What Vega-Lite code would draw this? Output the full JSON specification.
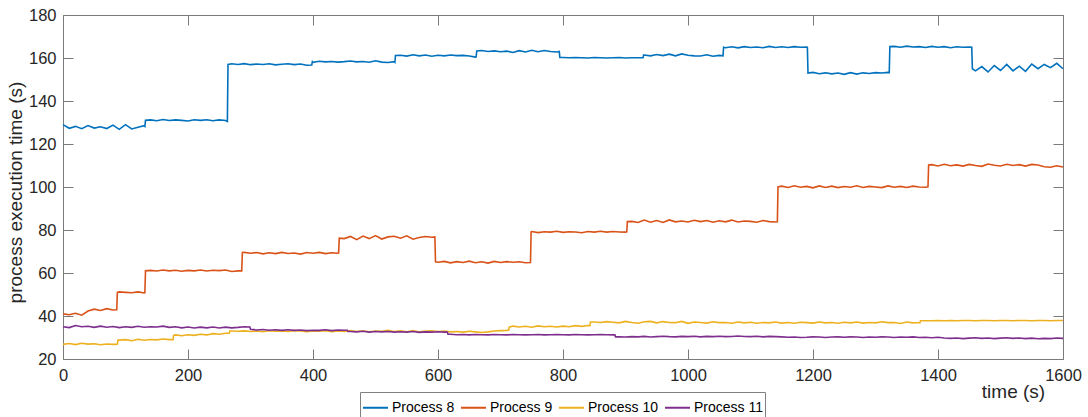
{
"$schema": "https://vega.github.io/schema/vega-lite/v6.json",
"width": 1000, "height": 344,
"autosize": "none",
"padding": {"left": 63, "top": 15, "right": 25, "bottom": 58},
"background": "white",
"config": {"view": {"stroke": null}, "font": "Liberation Sans",
 "axis": {"grid": false, "domainColor": "#7a7a7a", "tickColor": "#7a7a7a", "domainWidth": 1, "tickWidth": 1, "labelColor": "#262626", "titleColor": "#262626", "labelFontSize": 16.5, "titleFontSize": 19, "titleFontWeight": "normal", "labelFont": "Liberation Sans", "titleFont": "Liberation Sans"}},
"data": {"values": [
{"t":0,"Process 8":129.0,"Process 9":41.0,"Process 10":26.8,"Process 11":35.0},
{"t":10,"Process 8":127.3,"Process 9":40.6,"Process 10":27.2,"Process 11":34.6},
{"t":20,"Process 8":128.2,"Process 9":41.3,"Process 10":26.7,"Process 11":35.6},
{"t":30,"Process 8":127.1,"Process 9":40.4,"Process 10":27.3,"Process 11":35.0},
{"t":40,"Process 8":128.6,"Process 9":42.3,"Process 10":26.9,"Process 11":35.2},
{"t":50,"Process 8":127.4,"Process 9":43.2,"Process 10":27.1,"Process 11":34.7},
{"t":60,"Process 8":128.0,"Process 9":42.6,"Process 10":26.6,"Process 11":35.3},
{"t":70,"Process 8":127.2,"Process 9":43.4,"Process 10":27.0,"Process 11":34.8},
{"t":80,"Process 8":128.8,"Process 9":42.8,"Process 10":26.8,"Process 11":35.1},
{"t":86,"Process 9":42.9},
{"t":87,"Process 9":51.0,"Process 10":26.9},
{"t":88,"Process 10":28.8},
{"t":90,"Process 8":126.8,"Process 9":51.2,"Process 10":28.8,"Process 11":34.6},
{"t":100,"Process 8":129.0,"Process 9":51.0,"Process 10":29.0,"Process 11":35.0},
{"t":110,"Process 8":127.0,"Process 9":50.8,"Process 10":28.5,"Process 11":34.7},
{"t":120,"Process 8":127.8,"Process 9":51.2,"Process 10":29.2,"Process 11":35.2},
{"t":130,"Process 8":128.5,"Process 9":50.7,"Process 10":28.7,"Process 11":34.8},
{"t":131,"Process 8":128.2,"Process 9":50.8},
{"t":132,"Process 8":131.0,"Process 9":61.0},
{"t":140,"Process 8":131.2,"Process 9":61.2,"Process 10":29.1,"Process 11":35.0},
{"t":150,"Process 8":130.8,"Process 9":60.9,"Process 10":28.9,"Process 11":34.9},
{"t":160,"Process 8":131.4,"Process 9":61.4,"Process 10":29.3,"Process 11":35.3},
{"t":170,"Process 8":130.9,"Process 9":61.0,"Process 10":29.0,"Process 11":34.7},
{"t":176,"Process 10":29.0},
{"t":177,"Process 10":31.0},
{"t":180,"Process 8":131.2,"Process 9":61.3,"Process 10":31.2,"Process 11":35.0},
{"t":190,"Process 8":131.0,"Process 9":60.8,"Process 10":30.8,"Process 11":34.5},
{"t":200,"Process 8":130.7,"Process 9":61.2,"Process 10":31.3,"Process 11":34.9},
{"t":210,"Process 8":131.3,"Process 9":61.0,"Process 10":31.0,"Process 11":34.4},
{"t":220,"Process 8":131.0,"Process 9":61.4,"Process 10":31.5,"Process 11":34.8},
{"t":230,"Process 8":131.3,"Process 9":60.9,"Process 10":31.2,"Process 11":34.5},
{"t":240,"Process 8":130.8,"Process 9":61.3,"Process 10":31.8,"Process 11":34.9},
{"t":250,"Process 8":131.2,"Process 9":61.1,"Process 10":31.5,"Process 11":34.4},
{"t":260,"Process 8":130.9,"Process 9":61.4,"Process 10":32.0,"Process 11":34.8},
{"t":263,"Process 8":130.5},
{"t":264,"Process 8":157.0},
{"t":266,"Process 10":32.0},
{"t":267,"Process 10":33.0},
{"t":270,"Process 8":157.3,"Process 9":60.7,"Process 10":33.0,"Process 11":34.5},
{"t":280,"Process 8":157.0,"Process 9":61.0,"Process 10":32.9,"Process 11":34.7},
{"t":286,"Process 9":61.0},
{"t":287,"Process 9":69.5},
{"t":290,"Process 8":157.4,"Process 9":69.6,"Process 10":33.1,"Process 11":35.0},
{"t":299,"Process 11":34.9},
{"t":300,"Process 8":156.9,"Process 9":69.2,"Process 10":32.8,"Process 11":33.8},
{"t":310,"Process 8":157.2,"Process 9":69.5,"Process 10":33.0,"Process 11":33.5},
{"t":320,"Process 8":157.0,"Process 9":68.9,"Process 10":32.7,"Process 11":33.7},
{"t":330,"Process 8":157.3,"Process 9":69.4,"Process 10":33.2,"Process 11":33.4},
{"t":340,"Process 8":156.8,"Process 9":69.0,"Process 10":32.9,"Process 11":33.6},
{"t":350,"Process 8":157.1,"Process 9":69.6,"Process 10":33.1,"Process 11":33.3},
{"t":360,"Process 8":157.3,"Process 9":69.1,"Process 10":32.8,"Process 11":33.6},
{"t":370,"Process 8":156.9,"Process 9":69.3,"Process 10":33.2,"Process 11":33.3},
{"t":380,"Process 8":157.2,"Process 9":68.8,"Process 10":33.0,"Process 11":33.5},
{"t":390,"Process 8":156.6,"Process 9":69.5,"Process 10":32.7,"Process 11":33.2},
{"t":398,"Process 8":156.7},
{"t":399,"Process 8":158.3},
{"t":400,"Process 8":158.0,"Process 9":69.2,"Process 10":33.1,"Process 11":33.4},
{"t":410,"Process 8":158.5,"Process 9":69.6,"Process 10":32.9,"Process 11":33.3},
{"t":420,"Process 8":158.2,"Process 9":69.0,"Process 10":33.2,"Process 11":33.6},
{"t":430,"Process 8":158.4,"Process 9":69.4,"Process 10":32.7,"Process 11":33.2},
{"t":440,"Process 8":158.1,"Process 9":69.2,"Process 10":33.0,"Process 11":33.5},
{"t":441,"Process 9":69.3},
{"t":442,"Process 9":76.2},
{"t":450,"Process 8":158.3,"Process 9":76.0,"Process 10":32.8,"Process 11":33.4},
{"t":455,"Process 11":33.4},
{"t":456,"Process 11":32.8},
{"t":460,"Process 8":158.6,"Process 9":77.0,"Process 10":33.2,"Process 11":32.8},
{"t":470,"Process 8":158.2,"Process 9":75.5,"Process 10":32.8,"Process 11":32.6},
{"t":480,"Process 8":158.4,"Process 9":77.2,"Process 10":33.1,"Process 11":32.9},
{"t":490,"Process 8":158.0,"Process 9":76.0,"Process 10":32.7,"Process 11":32.5},
{"t":500,"Process 8":158.7,"Process 9":77.4,"Process 10":33.0,"Process 11":32.8},
{"t":510,"Process 8":158.1,"Process 9":75.8,"Process 10":32.9,"Process 11":32.6},
{"t":520,"Process 8":157.9,"Process 9":76.8,"Process 10":33.3,"Process 11":32.8},
{"t":530,"Process 8":158.3,"Process 9":77.1,"Process 10":32.8,"Process 11":32.5},
{"t":531,"Process 8":158.0},
{"t":532,"Process 8":161.2},
{"t":540,"Process 8":161.3,"Process 9":76.2,"Process 10":33.1,"Process 11":32.7},
{"t":550,"Process 8":160.9,"Process 9":77.3,"Process 10":32.7,"Process 11":32.5},
{"t":560,"Process 8":161.5,"Process 9":75.7,"Process 10":33.2,"Process 11":32.8},
{"t":570,"Process 8":161.0,"Process 9":76.5,"Process 10":32.6,"Process 11":32.4},
{"t":580,"Process 8":161.4,"Process 9":77.0,"Process 10":33.0,"Process 11":32.6},
{"t":590,"Process 8":160.8,"Process 9":76.6,"Process 10":33.1,"Process 11":32.5},
{"t":595,"Process 9":76.8},
{"t":596,"Process 9":65.2},
{"t":600,"Process 8":161.3,"Process 9":65.0,"Process 10":32.8,"Process 11":32.7},
{"t":610,"Process 8":161.0,"Process 9":65.4,"Process 10":33.0,"Process 11":32.5},
{"t":615,"Process 11":32.5},
{"t":616,"Process 11":31.5},
{"t":620,"Process 8":161.4,"Process 9":64.7,"Process 10":32.6,"Process 11":31.5},
{"t":630,"Process 8":161.1,"Process 9":65.3,"Process 10":32.8,"Process 11":31.3},
{"t":640,"Process 8":161.2,"Process 9":64.9,"Process 10":32.5,"Process 11":31.4},
{"t":650,"Process 8":160.9,"Process 9":65.5,"Process 10":32.9,"Process 11":31.2},
{"t":660,"Process 8":160.4,"Process 9":64.8,"Process 10":32.6,"Process 11":31.4},
{"t":661,"Process 8":160.5},
{"t":662,"Process 8":163.3},
{"t":670,"Process 8":163.5,"Process 9":65.2,"Process 10":32.3,"Process 11":31.3},
{"t":680,"Process 8":163.0,"Process 9":64.6,"Process 10":32.6,"Process 11":31.2},
{"t":690,"Process 8":163.3,"Process 9":65.4,"Process 10":33.0,"Process 11":31.4},
{"t":700,"Process 8":162.9,"Process 9":64.9,"Process 10":33.2,"Process 11":31.3},
{"t":710,"Process 8":163.2,"Process 9":65.3,"Process 10":33.3,"Process 11":31.2},
{"t":713,"Process 10":33.4},
{"t":714,"Process 10":34.8},
{"t":720,"Process 8":162.6,"Process 9":65.0,"Process 10":35.3,"Process 11":31.4},
{"t":730,"Process 8":163.4,"Process 9":65.2,"Process 10":34.9,"Process 11":31.3},
{"t":740,"Process 8":162.8,"Process 9":64.8,"Process 10":35.2,"Process 11":31.2},
{"t":748,"Process 9":64.9},
{"t":749,"Process 9":79.1},
{"t":750,"Process 8":163.6,"Process 9":79.3,"Process 10":34.8,"Process 11":31.3},
{"t":760,"Process 8":162.9,"Process 9":78.8,"Process 10":35.4,"Process 11":31.4},
{"t":770,"Process 8":163.5,"Process 9":79.2,"Process 10":35.0,"Process 11":31.2},
{"t":780,"Process 8":163.0,"Process 9":79.0,"Process 10":35.2,"Process 11":31.3},
{"t":790,"Process 8":162.8,"Process 9":79.4,"Process 10":34.9,"Process 11":31.4},
{"t":794,"Process 8":163.0},
{"t":795,"Process 8":160.2},
{"t":800,"Process 8":160.2,"Process 9":78.9,"Process 10":35.3,"Process 11":31.3},
{"t":810,"Process 8":160.1,"Process 9":79.2,"Process 10":35.0,"Process 11":31.2},
{"t":820,"Process 8":160.2,"Process 9":79.1,"Process 10":35.5,"Process 11":31.4},
{"t":830,"Process 8":160.1,"Process 9":78.7,"Process 10":35.2,"Process 11":31.3},
{"t":840,"Process 8":160.0,"Process 9":79.3,"Process 10":35.6,"Process 11":31.2},
{"t":843,"Process 10":35.5},
{"t":844,"Process 10":37.2},
{"t":850,"Process 8":160.2,"Process 9":79.0,"Process 10":37.2,"Process 11":31.3},
{"t":860,"Process 8":160.1,"Process 9":79.4,"Process 10":37.0,"Process 11":31.4},
{"t":870,"Process 8":160.0,"Process 9":79.0,"Process 10":37.4,"Process 11":31.3},
{"t":880,"Process 8":160.1,"Process 9":79.3,"Process 10":37.1,"Process 11":31.2},
{"t":883,"Process 11":31.2},
{"t":884,"Process 11":30.3},
{"t":890,"Process 8":160.2,"Process 9":79.1,"Process 10":36.8,"Process 11":30.3},
{"t":900,"Process 8":160.0,"Process 9":79.0,"Process 10":37.5,"Process 11":30.2},
{"t":902,"Process 9":79.1},
{"t":903,"Process 9":83.9},
{"t":910,"Process 8":160.1,"Process 9":84.0,"Process 10":37.0,"Process 11":30.4},
{"t":920,"Process 8":160.1,"Process 9":83.5,"Process 10":36.6,"Process 11":30.3},
{"t":928,"Process 8":160.1},
{"t":929,"Process 8":161.4},
{"t":930,"Process 8":161.4,"Process 9":84.6,"Process 10":37.3,"Process 11":30.5},
{"t":940,"Process 8":161.0,"Process 9":83.6,"Process 10":37.5,"Process 11":30.2},
{"t":950,"Process 8":161.6,"Process 9":84.4,"Process 10":36.8,"Process 11":30.4},
{"t":960,"Process 8":161.1,"Process 9":83.5,"Process 10":37.4,"Process 11":30.6},
{"t":970,"Process 8":161.8,"Process 9":84.7,"Process 10":37.0,"Process 11":30.4},
{"t":980,"Process 8":161.0,"Process 9":83.8,"Process 10":36.9,"Process 11":30.3},
{"t":990,"Process 8":161.9,"Process 9":84.2,"Process 10":37.5,"Process 11":30.5},
{"t":1000,"Process 8":161.3,"Process 9":83.7,"Process 10":36.6,"Process 11":30.4},
{"t":1010,"Process 8":161.0,"Process 9":84.5,"Process 10":37.2,"Process 11":30.6},
{"t":1020,"Process 8":160.9,"Process 9":83.9,"Process 10":37.0,"Process 11":30.3},
{"t":1030,"Process 8":161.5,"Process 9":84.4,"Process 10":36.7,"Process 11":30.5},
{"t":1040,"Process 8":160.8,"Process 9":83.6,"Process 10":37.3,"Process 11":30.4},
{"t":1050,"Process 8":161.2,"Process 9":84.3,"Process 10":36.9,"Process 11":30.6},
{"t":1056,"Process 8":161.0},
{"t":1057,"Process 8":165.0},
{"t":1060,"Process 8":164.8,"Process 9":83.8,"Process 10":37.0,"Process 11":30.4},
{"t":1070,"Process 8":165.2,"Process 9":84.6,"Process 10":36.6,"Process 11":30.5},
{"t":1080,"Process 8":164.7,"Process 9":83.7,"Process 10":37.2,"Process 11":30.7},
{"t":1090,"Process 8":165.3,"Process 9":84.2,"Process 10":36.8,"Process 11":30.5},
{"t":1100,"Process 8":164.9,"Process 9":84.0,"Process 10":37.1,"Process 11":30.4},
{"t":1110,"Process 8":165.1,"Process 9":83.6,"Process 10":36.6,"Process 11":30.6},
{"t":1120,"Process 8":164.8,"Process 9":84.4,"Process 10":37.0,"Process 11":30.3},
{"t":1130,"Process 8":165.4,"Process 9":83.9,"Process 10":36.8,"Process 11":30.5},
{"t":1140,"Process 8":164.9,"Process 9":83.7,"Process 10":37.2,"Process 11":30.4},
{"t":1143,"Process 9":83.8},
{"t":1144,"Process 9":100.0},
{"t":1150,"Process 8":165.2,"Process 9":100.4,"Process 10":36.7,"Process 11":30.3},
{"t":1160,"Process 8":164.9,"Process 9":99.8,"Process 10":37.0,"Process 11":30.1},
{"t":1170,"Process 8":165.3,"Process 9":100.6,"Process 10":36.6,"Process 11":30.2},
{"t":1180,"Process 8":165.0,"Process 9":99.9,"Process 10":37.1,"Process 11":30.0},
{"t":1190,"Process 8":165.1,"Process 9":100.3,"Process 10":36.9,"Process 11":30.1},
{"t":1191,"Process 8":165.0},
{"t":1192,"Process 8":153.0},
{"t":1200,"Process 8":153.3,"Process 9":99.6,"Process 10":36.7,"Process 11":30.3},
{"t":1210,"Process 8":152.7,"Process 9":100.5,"Process 10":37.2,"Process 11":30.2},
{"t":1220,"Process 8":153.1,"Process 9":99.8,"Process 10":36.8,"Process 11":30.0},
{"t":1230,"Process 8":152.6,"Process 9":100.4,"Process 10":37.0,"Process 11":30.2},
{"t":1240,"Process 8":153.0,"Process 9":99.7,"Process 10":36.6,"Process 11":30.3},
{"t":1250,"Process 8":152.4,"Process 9":100.2,"Process 10":37.1,"Process 11":30.1},
{"t":1260,"Process 8":153.2,"Process 9":99.9,"Process 10":36.8,"Process 11":30.3},
{"t":1270,"Process 8":152.5,"Process 9":100.6,"Process 10":37.2,"Process 11":30.2},
{"t":1280,"Process 8":153.1,"Process 9":99.8,"Process 10":36.7,"Process 11":30.0},
{"t":1290,"Process 8":152.8,"Process 9":100.3,"Process 10":37.0,"Process 11":30.2},
{"t":1300,"Process 8":153.2,"Process 9":100.0,"Process 10":36.8,"Process 11":30.1},
{"t":1310,"Process 8":153.0,"Process 9":99.7,"Process 10":37.3,"Process 11":30.3},
{"t":1320,"Process 8":153.3,"Process 9":100.5,"Process 10":36.9,"Process 11":30.2},
{"t":1322,"Process 8":153.2},
{"t":1323,"Process 8":165.3},
{"t":1330,"Process 8":165.4,"Process 9":99.9,"Process 10":37.0,"Process 11":30.0},
{"t":1340,"Process 8":165.0,"Process 9":100.3,"Process 10":36.5,"Process 11":30.2},
{"t":1350,"Process 8":165.5,"Process 9":99.8,"Process 10":37.2,"Process 11":30.1},
{"t":1360,"Process 8":165.1,"Process 9":100.4,"Process 10":36.8,"Process 11":30.3},
{"t":1370,"Process 8":165.3,"Process 9":100.0,"Process 10":37.0,"Process 11":30.0},
{"t":1371,"Process 10":36.9},
{"t":1372,"Process 10":37.8},
{"t":1380,"Process 8":164.9,"Process 9":99.9,"Process 10":37.8,"Process 11":30.1},
{"t":1384,"Process 9":100.1},
{"t":1385,"Process 9":110.2},
{"t":1390,"Process 8":165.4,"Process 9":110.4,"Process 10":37.8,"Process 11":29.9},
{"t":1400,"Process 8":165.0,"Process 9":109.8,"Process 10":37.9,"Process 11":30.1},
{"t":1410,"Process 8":165.3,"Process 9":110.6,"Process 10":37.8,"Process 11":29.8},
{"t":1420,"Process 8":164.8,"Process 9":109.9,"Process 10":37.9,"Process 11":29.6},
{"t":1430,"Process 8":165.2,"Process 9":110.3,"Process 10":37.8,"Process 11":29.8},
{"t":1440,"Process 8":165.0,"Process 9":109.7,"Process 10":37.9,"Process 11":29.5},
{"t":1450,"Process 8":165.1,"Process 9":110.5,"Process 10":37.9,"Process 11":29.7},
{"t":1454,"Process 8":165.0},
{"t":1455,"Process 8":155.0},
{"t":1460,"Process 8":154.0,"Process 9":110.0,"Process 10":37.8,"Process 11":29.9},
{"t":1470,"Process 8":156.0,"Process 9":109.6,"Process 10":37.9,"Process 11":29.6},
{"t":1480,"Process 8":153.5,"Process 9":110.7,"Process 10":37.9,"Process 11":29.8},
{"t":1490,"Process 8":156.5,"Process 9":110.1,"Process 10":37.8,"Process 11":29.5},
{"t":1500,"Process 8":154.2,"Process 9":109.8,"Process 10":37.9,"Process 11":29.7},
{"t":1510,"Process 8":157.0,"Process 9":110.6,"Process 10":37.9,"Process 11":29.9},
{"t":1520,"Process 8":154.0,"Process 9":110.0,"Process 10":37.8,"Process 11":29.6},
{"t":1530,"Process 8":156.2,"Process 9":110.4,"Process 10":37.9,"Process 11":29.8},
{"t":1540,"Process 8":153.8,"Process 9":109.7,"Process 10":37.9,"Process 11":29.5},
{"t":1550,"Process 8":157.2,"Process 9":110.5,"Process 10":37.8,"Process 11":29.7},
{"t":1560,"Process 8":155.0,"Process 9":110.2,"Process 10":37.9,"Process 11":29.4},
{"t":1570,"Process 8":157.0,"Process 9":109.4,"Process 10":37.9,"Process 11":29.6},
{"t":1580,"Process 8":155.5,"Process 9":109.2,"Process 10":37.8,"Process 11":29.5},
{"t":1590,"Process 8":157.5,"Process 9":109.9,"Process 10":37.9,"Process 11":29.8},
{"t":1600,"Process 8":155.0,"Process 9":109.3,"Process 10":37.9,"Process 11":29.6}
]},
"transform": [
 {"fold": ["Process 8", "Process 9", "Process 10", "Process 11"], "as": ["series", "value"]},
 {"filter": "isValid(datum.value)"}
],
"layer": [
 {"mark": {"type": "line", "strokeWidth": 1.6},
  "encoding": {
   "x": {"field": "t", "type": "quantitative", "scale": {"domain": [0, 1600], "nice": false},
     "axis": {"orient": "bottom", "values": [0,200,400,600,800,1000,1200,1400,1600], "format": "d", "tickSize": -10, "labelPadding": 18, "labelFlush": false, "title": "time (s)", "titleX": 950, "titleY": 38, "titleAlign": "center", "titleBaseline": "alphabetic"}},
   "y": {"field": "value", "type": "quantitative", "scale": {"domain": [20, 180], "nice": false, "zero": false},
     "axis": {"orient": "left", "values": [20,40,60,80,100,120,140,160,180], "format": "d", "tickSize": -10, "labelPadding": 17, "labelFlush": false, "title": "process execution time (s)", "titleX": -42, "titleY": 177, "titleAngle": -90, "titleAlign": "center", "titleBaseline": "alphabetic"}},
   "color": {"field": "series", "type": "nominal",
     "scale": {"domain": ["Process 8", "Process 9", "Process 10", "Process 11"], "range": ["#0072BD", "#D95319", "#EDB120", "#7E2F8E"]},
     "legend": {"orient": "none", "legendX": 297, "legendY": 377, "direction": "horizontal", "title": null, "symbolType": "stroke", "symbolSize": 625, "symbolStrokeWidth": 2, "labelFontSize": 14, "labelColor": "#000000", "labelFont": "Liberation Sans", "strokeColor": "#808080", "fillColor": "white", "padding": 2, "columnPadding": 2, "labelOffset": 3}}
  }},
 {"mark": {"type": "line", "opacity": 0},
  "encoding": {
   "x": {"field": "t", "type": "quantitative", "scale": {"domain": [0, 1600], "nice": false},
     "axis": {"orient": "top", "values": [0,200,400,600,800,1000,1200,1400,1600], "tickSize": -10, "labels": false, "title": null}},
   "y": {"field": "value", "type": "quantitative", "scale": {"domain": [20, 180], "nice": false, "zero": false},
     "axis": {"orient": "right", "values": [20,40,60,80,100,120,140,160,180], "tickSize": -10, "labels": false, "title": null}},
   "detail": {"field": "series", "type": "nominal"}
  }}
],
"resolve": {"axis": {"x": "independent", "y": "independent"}}
}
